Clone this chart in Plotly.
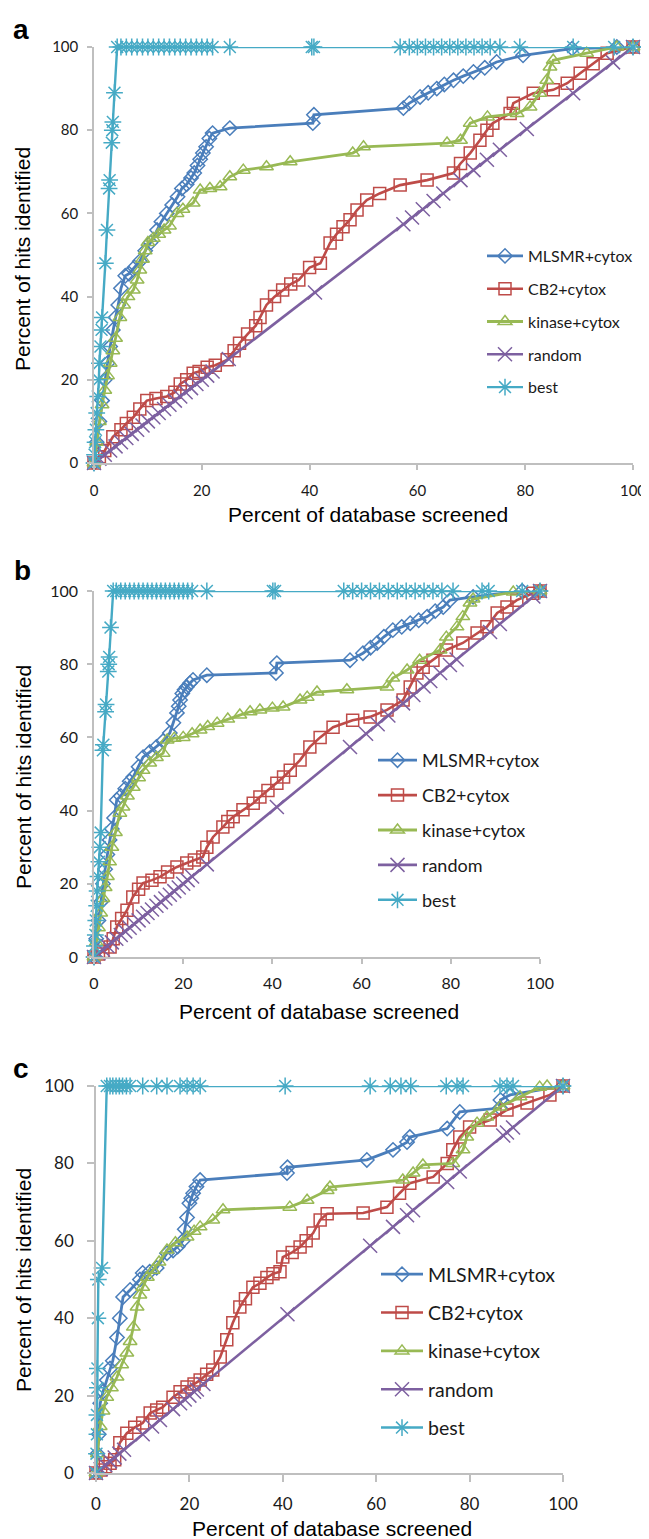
import plotly.graph_objects as go

# target page is 649x1539; the page body adds an 8 px margin, so the figure is 8 px smaller
PAGE_W, PAGE_H = 649, 1539
OFF = 8
W, H = PAGE_W - OFF, PAGE_H - OFF

SERIES = ["MLSMR+cytox", "CB2+cytox", "kinase+cytox", "random", "best"]
X_TICKS = [0, 20, 40, 60, 80, 100]
Y_TICKS = [0, 20, 40, 60, 80, 100]

# ---------------- panel a ----------------
mlsmr_a_x = [0, 0.5, 1, 1.5, 2, 2.5, 3, 3.5, 4, 4.5, 5, 5.8, 6.5, 7.5, 8.5, 9.5, 10.5, 11.7, 12.5, 13.5,
             14.5, 15.5, 16.3, 17.2, 18, 18.6, 19.2, 19.7, 20.2, 20.8, 21.4, 22, 25.2, 40.6, 40.8, 57.4, 58.5,
             60.5, 62, 63.6, 65, 66.7, 68.5, 70.4, 72.5, 74.7, 79.6, 88.7, 97, 100]
mlsmr_a_y = [0, 5, 10, 15, 20, 24, 28, 32, 35, 38, 42, 45, 45.5, 47, 48.5, 51, 53, 56, 58, 60,
             62, 64, 66, 67, 68.5, 69.7, 71.5, 73, 74.5, 76, 78, 79.3, 80.5, 81.7, 83.7, 85.3, 86.5,
             88, 89, 90, 91, 92, 93, 94, 95, 96.4, 98, 99.6, 100, 100]
cb2_a_x = [0, 1, 2, 3.5, 5, 6, 7.3, 8.5, 9.8, 11.5, 13.5, 15, 16, 17.2, 18.4, 19.5, 21, 22.5, 24.7, 26,
           27, 28.5, 30, 30.8, 32, 33.5, 35, 36.5, 38, 40, 42, 43.8, 45, 46.2, 47.5, 48.8, 50.6, 53, 56.8,
           61.8, 66.7, 68, 69.8, 71.6, 72.9, 74, 77.2, 77.8, 81.5, 85.2, 87.8, 90.2, 92.6, 95.2, 100]
cb2_a_y = [0, 1.5, 3, 6.3, 8, 9.5, 11, 13, 15, 15.5, 16, 17, 19, 20, 21.6, 22, 23, 23.5, 24.8, 27,
           28.8, 31, 33, 35, 38, 40, 41.6, 43, 44, 47, 48, 52.9, 55, 56.8, 58.5, 60.8, 63.2, 64.8, 66.8,
           68, 69.7, 72, 74.5, 77.6, 80, 81.7, 84, 86.5, 88.9, 89.7, 91.3, 93.7, 96, 98.5, 100]
kinase_a_x = [0, 0.5, 1, 1.5, 2, 2.5, 3, 3.5, 4, 4.8, 5.5, 6.3, 7.3, 8, 8.5, 9, 9.5, 10, 11, 12,
              13, 14, 15.4, 16.5, 18.4, 19.7, 21.5, 23.4, 25.2, 27.7, 32, 36.4, 48, 50, 65.5, 68, 69.8,
              73, 78.5, 80.9, 82.7, 84, 84.6, 85.2, 91.4, 97, 100]
kinase_a_y = [0, 5, 10, 14, 17.5, 21, 24, 27, 30, 35, 38, 40, 41.6, 44, 46.4, 49, 51, 53, 54, 55,
              56, 57, 60, 61, 62.5, 65.6, 66, 66.4, 68.8, 70.4, 71.2, 72.4, 74.5, 76, 76.9, 77.6, 81.7,
              83.2, 84, 85.6, 88.9, 92, 95.2, 96.8, 98.5, 100, 100]
random_a_x = [0, 1, 2, 3, 4, 5, 6, 7, 8, 9, 10, 11, 12, 13, 14, 15, 16, 17, 18, 19, 20, 21, 22, 25, 41,
              57.4, 59, 61, 63, 64.8, 68, 70.4, 72.9, 75.3, 80.3, 88.9, 96.3, 100]
random_a_y = [0, 1, 2, 3, 4, 5, 6, 7, 8, 9, 10, 11, 12, 13, 14, 15, 16, 17, 18, 19, 20, 21, 22, 25, 41,
              57.4, 59, 61, 63, 64.8, 68, 70.4, 72.9, 75.3, 80.3, 88.9, 96.3, 100]
best_a_x = [0, 0.1, 0.2, 0.35, 0.5, 0.7, 0.9, 1.0, 1.2, 1.4, 1.5, 2.1, 2.4, 2.8, 2.9, 3.3, 3.4, 3.5, 3.8,
            4.3, 5, 6, 7, 8, 9, 10, 11, 12, 13, 14, 15, 16, 17, 18, 19, 20, 21, 22, 25.2, 40.4, 40.8,
            56.8, 58.5, 60, 61.5, 63, 64.5, 66, 67.5, 69, 70.5, 72, 73.5, 75.3, 79, 88.9, 96.5, 100]
best_a_y = [0, 2, 5, 8, 12, 16, 20, 24, 28, 32, 35, 48, 56, 66, 68, 77, 80, 82, 89,
            100, 100, 100, 100, 100, 100, 100, 100, 100, 100, 100, 100, 100, 100, 100, 100, 100, 100, 100,
            100, 100, 100, 100, 100, 100, 100, 100, 100, 100, 100, 100, 100, 100, 100, 100, 100, 100, 100, 100]

# ---------------- panel b ----------------
mlsmr_b_x = [0, 0.5, 1, 1.5, 2, 2.5, 3, 3.5, 4, 4.5, 5.1, 6, 7, 8, 8.8, 10, 11, 12.5, 14, 15.5,
             17, 17.8, 18.6, 19, 19.3, 19.8, 20.3, 20.8, 21.5, 22.2, 25.3, 40.8, 41, 57.4, 60.3, 62, 63.5,
             65, 67, 69, 70.9, 72.8, 74.7, 76.5, 78.3, 79.8, 85, 96, 100]
mlsmr_b_y = [0, 5, 10, 15, 20, 24, 28, 32, 35, 38, 42.9, 44, 46, 48, 49.2, 52, 54.6, 56, 57.4, 59,
             61.2, 64, 66.7, 68.5, 70.2, 72, 73, 73.8, 74.8, 75.7, 77, 77.6, 80.3, 81.1, 83, 84.5, 85.8,
             87.5, 89.3, 90.2, 91.2, 92, 93, 94.5, 95.6, 97.5, 98.4, 100, 100]
cb2_b_x = [0, 1, 2, 3.6, 4.3, 5.1, 6.2, 7.4, 8.7, 10, 11, 13, 14.8, 16.5, 18.6, 20.8, 22.5, 24.4, 25.3,
           26.7, 28.9, 30, 31.2, 33.4, 35.7, 37.2, 39, 41, 42.5, 44, 46.2, 48.4, 50.7, 53.6, 58, 61.9,
           65.7, 69.3, 70.9, 72.4, 73.8, 76, 79, 82.7, 85.9, 88.1, 90.4, 92.6, 94.8, 98.4, 100]
cb2_b_y = [0, 0.8, 1.5, 2.7, 5, 8.2, 10.5, 12.8, 16.4, 18.5, 20.2, 21, 21.9, 23.2, 24.6, 25.7, 26.5,
           27.3, 30, 32.8, 35.5, 37, 38.3, 40.2, 42, 43.7, 45.5, 47.5, 49.2, 51, 53.8, 57.4, 60, 62.8,
           64.7, 65.6, 67.5, 70.2, 73.8, 77.6, 79.2, 81.1, 83.9, 85.8, 88.5, 90.2, 94, 95.6, 97.5, 99.4, 100]
kinase_b_x = [0, 0.5, 1, 1.5, 2, 2.5, 3, 3.5, 4, 4.8, 5.8, 6.5, 7.5, 8.8, 10, 11, 12.5, 14, 15.5, 16.4,
              18, 20, 22, 23.8, 25.5, 27.6, 30, 32.7, 35, 37.2, 40, 42.4, 46.2, 47.8, 50, 56.7, 65.7, 67,
              70.2, 73, 77.6, 79, 81.4, 82.7, 84.3, 85, 94, 100]
kinase_b_y = [0, 4, 8, 12, 16, 19, 22, 26, 30, 34, 39.3, 41, 44, 46.4, 49, 51, 53, 54.5, 55.7, 59.3,
              59.8, 60, 61, 62, 63, 63.9, 65, 66.1, 67, 67.5, 68, 68.3, 70.2, 71, 72.4, 73, 73.8, 76.2,
              78.4, 81.1, 83.9, 87.4, 90.2, 93, 96.7, 97.8, 99.7, 100]
random_b_x = [0, 1, 2, 3, 4, 5, 6, 7, 8, 9, 10, 11, 12, 13, 14, 15, 16, 17, 18, 19, 20, 21, 22, 25.3, 41,
              57.4, 61, 63.6, 66, 69.3, 71.6, 73.9, 75.4, 77.6, 79.8, 81.3, 88.8, 91, 98.5, 100]
random_b_y = [0, 1, 2, 3, 4, 5, 6, 7, 8, 9, 10, 11, 12, 13, 14, 15, 16, 17, 18, 19, 20, 21, 22, 25.3, 41,
              57.4, 61, 63.6, 66, 69.3, 71.6, 73.9, 75.4, 77.6, 79.8, 81.3, 88.8, 91, 98.5, 100]
best_b_x = [0, 0.1, 0.3, 0.4, 0.6, 0.7, 0.9, 1.1, 1.3, 1.5, 2.0, 2.1, 2.6, 2.7, 3.2, 3.3, 3.4, 3.7,
            4.3, 5, 6, 7, 8, 9, 10, 11, 12, 13, 14, 15, 16, 17, 18, 19, 20, 21, 22, 25.3, 40.1, 40.6,
            56, 58, 60, 62, 64, 66, 68, 70, 72, 74, 76, 78, 80.5, 87, 88.5, 96, 100]
best_b_y = [0, 3, 6, 10, 14, 18, 22, 26, 30, 34, 56.5, 58, 67, 69, 78, 80, 82, 90,
            100, 100, 100, 100, 100, 100, 100, 100, 100, 100, 100, 100, 100, 100, 100, 100, 100, 100, 100,
            100, 100, 100, 100, 100, 100, 100, 100, 100, 100, 100, 100, 100, 100, 100, 100, 100, 100, 100, 100]

# ---------------- panel c ----------------
mlsmr_c_x = [0, 0.3, 0.6, 0.9, 1.5, 2.3, 3, 3.6, 4.5, 5.1, 5.8, 7.3, 9.4, 10, 11.5, 13, 15.2, 16.5, 17.5,
             18.6, 19, 19.5, 20, 20.4, 20.8, 21.5, 22.3, 40.9, 41, 58, 63.6, 66.6, 67.2, 75.2, 77.9, 86.5,
             86.6, 88.7, 100]
mlsmr_c_y = [0, 5, 10, 18, 21, 24, 27, 29, 35, 40, 45.5, 47.3, 50, 51.7, 52, 53, 56.8, 57.5, 58.5,
             60, 63, 66, 69.7, 71, 72.3, 74, 75.7, 77.5, 79, 80.9, 83.5, 85.5, 86.8, 89, 93.3, 94.3,
             96.4, 97.7, 100]
cb2_c_x = [0, 1, 2, 3, 4, 5.1, 6.6, 8.3, 10, 11.6, 13, 14.3, 16.5, 18, 19.5, 21, 22.3, 23.7, 25, 26.6,
           28, 29.3, 30.8, 32, 33.6, 35.1, 36.6, 37.9, 39.4, 40, 42, 43.7, 45, 46.5, 48, 49.5, 57.2, 62.3,
           65, 67.2, 72.2, 75.2, 76.4, 77.9, 80, 84.4, 88, 92.3, 97.2, 100]
cb2_c_y = [0, 0.8, 1.6, 2.5, 3.4, 7.8, 10.3, 11.8, 12.9, 15.5, 16.3, 17, 19.6, 21, 22.2, 23, 24, 25.5,
           26.6, 30, 34.4, 38.8, 42.9, 45, 48, 49, 50.5, 51.5, 52, 55.8, 57, 58.4, 60, 62, 65.4, 67, 67.2,
           68.7, 72.3, 74.9, 76.5, 80, 83.5, 86.8, 89.4, 91.2, 93.8, 95.6, 97.7, 100]
kinase_c_x = [0, 0.3, 0.9, 1.5, 2.3, 3.3, 4.5, 5.5, 6.6, 7.3, 8, 8.8, 9.4, 10, 11, 12.2, 13.5, 15.2, 17,
              19.5, 21, 22.3, 25, 27.2, 41.5, 45.2, 49.5, 50.1, 65.7, 67.9, 70, 76.4, 78.6, 79.4, 81.6,
              83.7, 86.5, 90.8, 95, 96.6, 100]
kinase_c_y = [0, 5, 12, 16, 19.6, 22, 24.8, 28, 31, 34, 37.7, 42.9, 46, 48, 50.6, 52.4, 54.5, 57.6, 59.5,
              61, 62.5, 63.6, 65.4, 68, 68.7, 70.5, 73, 73.9, 75.7, 77.5, 79.6, 80, 83.5, 86.8, 90.4,
              92, 94.6, 97.2, 99.7, 100, 100]
random_c_x = [0, 1, 2, 3, 4, 5, 6, 10, 12, 13.7, 16.5, 18, 19, 20, 21, 21.6, 23, 41, 58.7, 63.6, 66.6,
              67.9, 75.2, 77.9, 87.2, 88, 89.3, 100]
random_c_y = [0, 1, 2, 3, 4, 5, 6, 10, 12, 13.7, 16.5, 18, 19, 20, 21, 21.6, 23, 41, 58.7, 63.6, 66.6,
              67.9, 75.2, 77.9, 87.2, 88, 89.3, 100]
best_c_x = [0, 0.1, 0.2, 0.2, 0.3, 0.3, 0.4, 0.5, 1.3, 2.3, 3, 3.6, 4.3, 5, 5.7, 6.5, 7.3, 10, 13, 15.2,
            18, 19.5, 20.8, 22.3, 40.5, 58.7, 63, 65.3, 67.4, 75, 77.3, 78.6, 86.5, 88, 89.3, 100]
best_c_y = [0, 5, 10, 15, 22, 27, 40, 50, 53, 100, 100, 100, 100, 100, 100, 100, 100, 100, 100, 100,
            100, 100, 100, 100, 100, 100, 100, 100, 100, 100, 100, 100, 100, 100, 100, 100]

# page-pixel placements of the three panels (converted to paper fractions below)
PANELS = [
    dict(label="a",
         data=[(mlsmr_a_x, mlsmr_a_y), (cb2_a_x, cb2_a_y), (kinase_a_x, kinase_a_y),
               (random_a_x, random_a_y), (best_a_x, best_a_y)],
         px=(94, 633), py=(47, 463), legend_xy=(482, 239), gap=9, leg_font=16, itemw=36,
         tick_font=15, ticklen=5, xstand=8, ystand=6,
         xt=(368, 515), yt=(23, 259), lab=(21, 30)),
    dict(label="b",
         data=[(mlsmr_b_x, mlsmr_b_y), (cb2_b_x, cb2_b_y), (kinase_b_x, kinase_b_y),
               (random_b_x, random_b_y), (best_b_x, best_b_y)],
         px=(94, 540), py=(591, 957), legend_xy=(373, 742), gap=8.5, leg_font=18, itemw=39,
         tick_font=16, ticklen=5, xstand=6, ystand=6,
         xt=(319, 1011), yt=(23, 777), lab=(22, 570)),
    dict(label="c",
         data=[(mlsmr_c_x, mlsmr_c_y), (cb2_c_x, cb2_c_y), (kinase_c_x, kinase_c_y),
               (random_c_x, random_c_y), (best_c_x, best_c_y)],
         px=(96, 563), py=(1086, 1473), legend_xy=(376, 1255), gap=10, leg_font=19.5, itemw=42,
         tick_font=17, ticklen=7, xstand=8, ystand=10,
         xt=(332, 1528), yt=(23, 1280), lab=(21, 1068)),
]


def fx(px):
    return (px - OFF) / W


def fy(py):
    return 1 - (py - OFF) / H


COLORS = ["#4A7EBB", "#BE4B48", "#98B954", "#7D60A0", "#46AAC5"]
SYMBOLS = ["diamond-open", "square-open", "triangle-up-open", "x-thin-open", "asterisk-open"]
MSIZES = [11, 12, 12, 14, 14]
LWIDTHS = [2.8, 2.6, 2.8, 2.6, 2.4]

AXIS_COLOR = "#BFBFBF"
TEXT_COLOR = "#1a1a1a"
TITLE_FONT = dict(family="Liberation Sans, Arial", size=21, color="#000000")

fig = go.Figure()
annotations = []
layout = {}

for i, p in enumerate(PANELS):
    n = "" if i == 0 else str(i + 1)
    xa, ya = "x" + n, "y" + n
    leg = "legend" + n
    for j, (xs, ys) in enumerate(p["data"]):
        fig.add_trace(go.Scatter(
            x=xs, y=ys, name=SERIES[j], mode="lines+markers",
            xaxis=xa, yaxis=ya, legend=leg, legendgroup=f"{p['label']}{j}",
            line=dict(color=COLORS[j], width=LWIDTHS[j]),
            marker=dict(symbol=SYMBOLS[j], size=MSIZES[j], color=COLORS[j],
                        line=dict(color=COLORS[j], width=1.5)),
            cliponaxis=False, hoverinfo="skip"))
    x0, x1 = p["px"]
    y0, y1 = p["py"]
    tick_font = dict(family="Lato, Carlito, Arial", size=p["tick_font"], color=TEXT_COLOR)
    layout["xaxis" + n] = dict(
        domain=[fx(x0), fx(x1)], anchor=ya, range=[0, 100], tickvals=X_TICKS,
        showgrid=False, zeroline=False, showline=True, linecolor=AXIS_COLOR, linewidth=1.5,
        ticks="outside", ticklen=p["ticklen"], tickwidth=1.5, tickcolor=AXIS_COLOR, automargin=False,
        tickfont=tick_font, ticklabelstandoff=p["xstand"], fixedrange=True)
    layout["yaxis" + n] = dict(
        domain=[fy(y1), fy(y0)], anchor=xa, range=[0, 100], tickvals=Y_TICKS,
        showgrid=False, zeroline=False, showline=True, linecolor=AXIS_COLOR, linewidth=1.5,
        ticks="outside", ticklen=p["ticklen"], tickwidth=1.5, tickcolor=AXIS_COLOR, automargin=False,
        tickfont=tick_font, ticklabelstandoff=p["ystand"], fixedrange=True)
    lx, ly = p["legend_xy"]
    layout[leg] = dict(x=fx(lx), y=fy(ly), xanchor="left", yanchor="top",
                       font=dict(family="Lato, Carlito, Arial", size=p["leg_font"], color=TEXT_COLOR),
                       bgcolor="rgba(0,0,0,0)", traceorder="grouped",
                       tracegroupgap=p["gap"], itemwidth=p["itemw"], itemclick=False)
    annotations.append(dict(text="Percent of database screened", x=fx(p["xt"][0]), y=fy(p["xt"][1]),
                            xref="paper", yref="paper", showarrow=False, font=TITLE_FONT,
                            xanchor="center", yanchor="middle"))
    annotations.append(dict(text="Percent of hits identified", x=fx(p["yt"][0]), y=fy(p["yt"][1]),
                            xref="paper", yref="paper", showarrow=False, font=TITLE_FONT, textangle=-90,
                            xanchor="center", yanchor="middle"))
    annotations.append(dict(text="<b>" + p["label"] + "</b>", x=fx(p["lab"][0]), y=fy(p["lab"][1]),
                            xref="paper", yref="paper", showarrow=False,
                            font=dict(family="Liberation Sans, Arial", size=28, color="#000000"),
                            xanchor="center", yanchor="middle"))

fig.update_layout(width=W, height=H, margin=dict(l=0, r=0, t=0, b=0, autoexpand=False),
                  paper_bgcolor="white", plot_bgcolor="white", showlegend=True,
                  annotations=annotations, **layout)

fig.write_html("out.html")
